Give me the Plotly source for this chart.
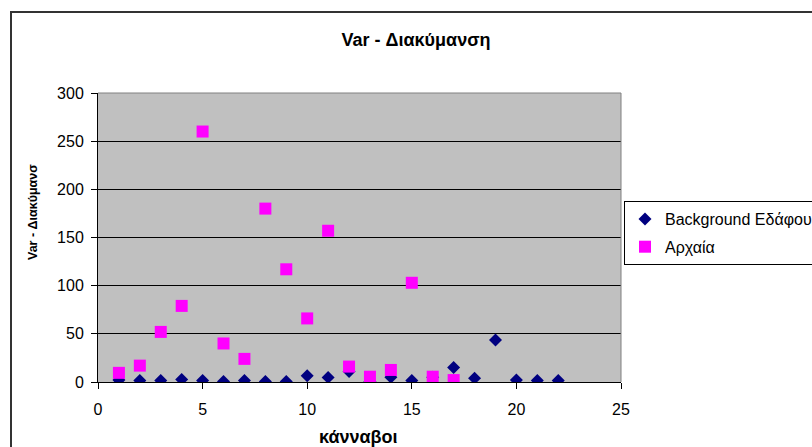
import plotly.graph_objects as go

# Variance per grid square (κάνναβοι)
background_x = list(range(1, 23))
background_var = [2, 1.5, 1.5, 2.7, 1.5, 0.5, 1.5, 0.5, 0.5, 6.5, 4.8, 11,
                  0.5, 5, 1.5, 5, 15, 4, 43.5, 2, 1.5, 1.5]

archaeo_x = list(range(1, 18))
archaeo_var = [9.5, 17, 52, 79, 260, 40, 24, 180, 117, 66, 157, 16,
               5.5, 12.5, 103, 5.5, 2]

x_ticks = [0, 5, 10, 15, 20, 25]
y_ticks = [0, 50, 100, 150, 200, 250, 300]

FONT = "Arial, Liberation Sans, sans-serif"
W, H = 812, 447
L, R, T, B = 98, 191, 93, 65
pw, ph = W - L - R, H - T - B


def px_x(p):
    return (p - L) / pw


def px_y(p):
    return (H - B - p) / ph


fig = go.Figure()
fig.add_trace(go.Scatter(
    x=background_x, y=background_var, mode="markers",
    name="Background Εδάφου", legendgroup="bg",
    marker=dict(symbol="diamond", size=10, color="#000080"),
))
fig.add_trace(go.Scatter(
    x=archaeo_x, y=archaeo_var, mode="markers",
    name="Αρχαία", legendgroup="arch",
    marker=dict(symbol="square", size=12, color="#FF00FF"),
))

fig.update_layout(
    width=W, height=H,
    margin=dict(l=L, r=R, t=T, b=B, autoexpand=False),
    paper_bgcolor="white",
    plot_bgcolor="#C0C0C0",
    font=dict(family=FONT, size=16, color="black"),
    title=dict(text="<b>Var - Διακύμανση</b>", x=416 / W, xanchor="center",
               y=1 - 40 / H, yanchor="middle", yref="container",
               font=dict(size=18, family=FONT, color="black")),
    showlegend=True,
    legend=dict(x=px_x(624), y=px_y(201), xanchor="left", yanchor="top",
                bgcolor="white", bordercolor="black", borderwidth=1,
                font=dict(size=16, family=FONT), itemwidth=30,
                tracegroupgap=4),
    xaxis=dict(range=[0, 25], tickvals=x_ticks, showgrid=False, zeroline=False,
               showline=True, linecolor="black", linewidth=1,
               ticks="outside", ticklen=6, tickcolor="black",
               ticklabelstandoff=7, tickfont=dict(size=16)),
    yaxis=dict(range=[0, 300], tickvals=y_ticks, showgrid=True,
               gridcolor="black", gridwidth=1, zeroline=False,
               showline=True, linecolor="black", linewidth=1,
               ticks="outside", ticklen=6, tickcolor="black",
               ticklabelstandoff=4, tickfont=dict(size=16)),
    shapes=[
        # plot area frame (top and right)
        dict(type="line", xref="paper", yref="paper", x0=0, x1=1, y0=1, y1=1,
             line=dict(color="#808080", width=1), layer="above"),
        dict(type="line", xref="paper", yref="paper", x0=1, x1=1, y0=0, y1=1,
             line=dict(color="#808080", width=1), layer="above"),
        # chart frame
        dict(type="rect", xref="paper", yref="paper",
             x0=px_x(11), x1=2, y0=-1, y1=px_y(12),
             line=dict(color="#333333", width=2), layer="above"),
    ],
    annotations=[
        dict(text="<b>κάνναβοι</b>", xref="paper", yref="paper",
             x=px_x(358), y=px_y(437), showarrow=False,
             xanchor="center", yanchor="middle", font=dict(size=18)),
        dict(text="<b>Var - Διακύμανσ</b>", xref="paper", yref="paper",
             x=px_x(33), y=px_y(212), showarrow=False, textangle=-90,
             xanchor="center", yanchor="middle", font=dict(size=12.5)),
    ],
)

fig.write_html("out.html")
